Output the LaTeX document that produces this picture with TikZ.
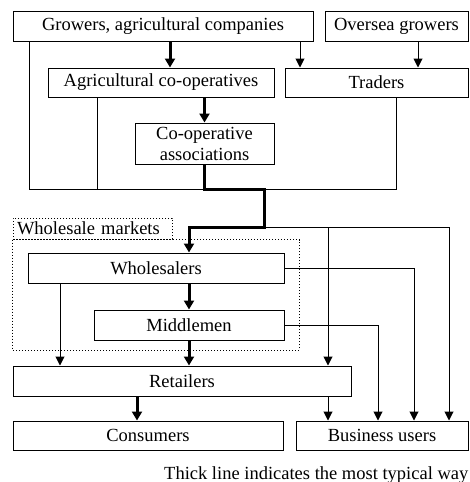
\documentclass[tikz,border=0pt]{standalone}
\usepackage{fontspec}
\setmainfont{Liberation Serif}
\usetikzlibrary{arrows.meta,positioning,calc}

\begin{document}
\begin{tikzpicture}[
    x=1pt, y=-1pt,
    box/.style={rectangle, draw, line width=1pt, minimum width=#1, minimum height=30pt, inner sep=0pt, align=center, font=\fontsize{18.5}{21}\selectfont},
    line/.style={line width=1pt},
    arr/.style={-{Triangle[width=9pt,length=9pt]}, line width=1pt},
    thk/.style={-{Triangle[width=10pt,length=9pt]}, line width=3pt},
    frame/.style={draw, dotted, line width=1pt}
]
\useasboundingbox (0,0) rectangle (469,482);

% Boxes
\node[box=300pt] (growers) at (163,26) {Growers, agricultural companies};
\node[box=143pt] (oversea) at (396.5,26) {Oversea growers};
\node[box=226pt, minimum height=29pt] (agcoop) at (161,82.5) {Agricultural co-operatives};
\node[box=183pt, minimum height=29pt] (traders) at (376.5,82.5) {Traders};
\node[box=139pt, minimum height=41pt] (assoc) at (204.5,143.5) {Co-operative\\associations};
\node[box=159pt, minimum height=21pt, frame, text width=151pt, align=left] (wlabel) at (92.5,228.5) {Wholesale markets};
\node[box=256pt] (wholesalers) at (156,268) {Wholesalers};
\node[box=190pt] (middlemen) at (189,325) {Middlemen};
\node[box=338pt] (retailers) at (182,381) {Retailers};
\node[box=270pt, minimum height=29pt] (consumers) at (148,435.5) {Consumers};
\node[box=172pt, minimum height=29pt] (business) at (382,435.5) {Business users};

% Wholesale markets frame
\draw[frame] (wlabel.south west) rectangle (299,350);

% Columns and junctions
\coordinate (cg) at (170,0);
\coordinate (ct) at (300,0);
\coordinate (co) at (418,0);
\coordinate (ca) at (97,189);
\coordinate (cl) at (29,0);
\coordinate (tr) at (396,189);
\coordinate (j1) at (264,189);
\coordinate (j2) at (264,227);
\coordinate (cr) at (328,227);
\coordinate (ce) at (449,0);
\coordinate (cw) at (60,0);
\coordinate (cm) at (378,0);
\coordinate (cs) at (414,0);
\coordinate (cc) at (137,0);

% Upper part
\draw[thk] (growers.south -| cg) -- (agcoop.north -| cg);
\draw[arr] (growers.south -| ct) -- (traders.north -| ct);
\draw[arr] (oversea.south -| co) -- (traders.north -| co);
\draw[thk] (agcoop.south -| assoc.north) -- (assoc.north);

% Collecting line
\draw[line] (growers.south -| cl) |- (tr) -- (traders.south -| tr);
\draw[line] (agcoop.south -| ca) -- (ca);
\draw[thk] (assoc.south) |- (j1) -- (j2) -| (wholesalers.north -| middlemen.north);
\draw[arr] (j2) -| (business.north -| ce);
\draw[arr] (cr) -- (retailers.north -| cr);

% Wholesale markets
\draw[thk] (wholesalers.south -| middlemen.north) -- (middlemen.north);
\draw[thk] (middlemen.south) -- (retailers.north -| middlemen.south);
\draw[arr] (wholesalers.south -| cw) -- (retailers.north -| cw);
\draw[arr] (wholesalers.east) -| (business.north -| cs);
\draw[arr] (middlemen.east) -| (business.north -| cm);

% Lower part
\draw[thk] (retailers.south -| cc) -- (consumers.north -| cc);
\draw[arr] (retailers.south -| cr) -- (business.north -| cr);

% Note
\node[anchor=west, inner sep=0pt, font=\fontsize{18.5}{21}\selectfont] (note) at (164,475) {Thick line indicates the most typical way};
\end{tikzpicture}
\end{document}
